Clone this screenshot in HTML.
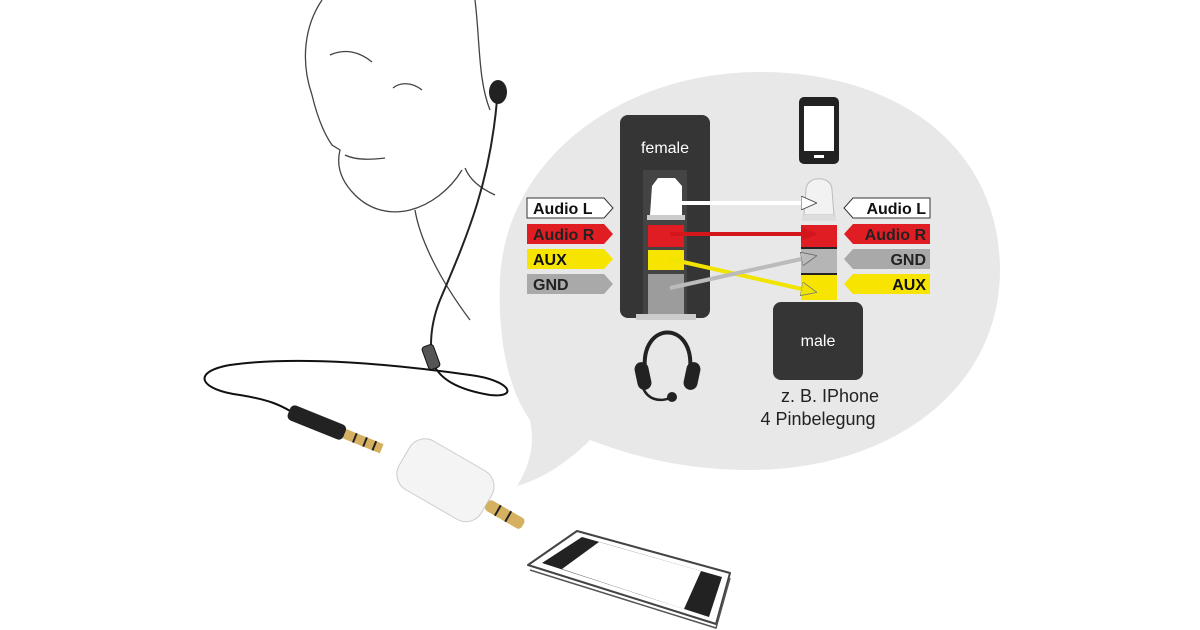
<!DOCTYPE html>
<html><head><meta charset="utf-8"><style>
html,body{margin:0;padding:0;background:#fff;}
svg{display:block;font-family:"Liberation Sans",Arial,sans-serif;}
</style></head><body>
<svg width="1200" height="630" viewBox="0 0 1200 630" xmlns="http://www.w3.org/2000/svg">
<defs>
<marker id="mw" markerWidth="16" markerHeight="14" refX="14" refY="7" orient="auto" markerUnits="userSpaceOnUse"><path d="M0,0 L16,7 L0,14 Z" fill="#fff" stroke="#555" stroke-width="1"/></marker>
<marker id="mr" markerWidth="16" markerHeight="14" refX="14" refY="7" orient="auto" markerUnits="userSpaceOnUse"><path d="M0,0 L16,7 L0,14 Z" fill="#d2161c"/></marker>
<marker id="my" markerWidth="16" markerHeight="14" refX="14" refY="7" orient="auto" markerUnits="userSpaceOnUse"><path d="M0,0 L16,7 L0,14 Z" fill="#f1e400" stroke="#777" stroke-width="0.8"/></marker>
<marker id="mg" markerWidth="16" markerHeight="14" refX="14" refY="7" orient="auto" markerUnits="userSpaceOnUse"><path d="M0,0 L16,7 L0,14 Z" fill="#bbb" stroke="#666" stroke-width="0.8"/></marker>
</defs>
<path d="M760,72 C900,72 1000,150 1000,270 C1000,390 890,470 750,470 C680,470 630,455 590,440 C570,460 545,478 517,486 C530,465 535,445 530,420 C505,385 498,330 500,280 C505,160 620,72 760,72 Z" fill="#e8e8e8"/>

<g fill="none" stroke="#444" stroke-width="1.3">
<path d="M322,0 C305,25 300,60 312,95 C318,120 325,135 332,145 L340,150 C335,170 345,185 355,195 C370,210 390,215 410,210 C430,205 450,190 462,170"/>
<path d="M330,55 C345,48 360,52 372,62"/>
<path d="M393,88 C400,82 412,82 422,90"/>
<path d="M345,155 C355,160 370,160 385,158"/>
<path d="M475,0 C480,40 478,80 490,110"/>
<path d="M465,168 C470,180 480,188 495,195"/>
<path d="M415,210 C420,240 440,280 470,320"/>
</g>
<ellipse cx="498" cy="92" rx="9" ry="12" fill="#222"/>
<path d="M497,100 C490,180 470,230 440,300 C430,325 430,345 432,360" fill="none" stroke="#222" stroke-width="2"/>
<path d="M432,360 C438,380 460,390 490,395 C520,398 510,380 470,375 C400,365 300,355 230,365 C190,372 200,390 240,395 C270,400 280,405 292,412" fill="none" stroke="#111" stroke-width="2"/>
<rect x="425" y="345" width="12" height="24" rx="3" fill="#555" stroke="#111" transform="rotate(-20 431 357)"/>
<g transform="rotate(22 330 430)">
<rect x="285" y="420" width="60" height="16" rx="5" fill="#222"/>
<rect x="345" y="423" width="40" height="10" fill="#d4b060"/>
<rect x="355" y="423" width="2" height="10" fill="#222"/><rect x="366" y="423" width="2" height="10" fill="#222"/><rect x="376" y="423" width="2" height="10" fill="#222"/>
</g>
<g transform="rotate(30 445 480)">
<rect x="398" y="452" width="95" height="56" rx="18" fill="#f4f4f4" stroke="#ccc"/>
<rect x="493" y="474" width="42" height="12" rx="4" fill="#d4b060"/>
<rect x="505" y="474" width="2" height="12" fill="#222"/><rect x="517" y="474" width="2" height="12" fill="#222"/>
</g>
<!-- phone -->
<polygon points="577,531 730,573 716,624 528,565" fill="#fff" stroke="#444" stroke-width="2" stroke-linejoin="round"/>
<polyline points="530,570 716,628 730,578" fill="none" stroke="#555" stroke-width="1.5"/>
<polygon points="582,537 722,577 709,617 542,563" fill="#222"/>
<polygon points="599,542 701,571 684,609 562,569" fill="#fff"/>

<rect x="620" y="115" width="90" height="203" rx="8" fill="#353535"/>
<rect x="643" y="170" width="44" height="150" fill="#444"/>
<path d="M652,186 L658,178 L675,178 L682,186 L682,215 L650,215 Z" fill="#fff"/>
<rect x="647" y="215" width="38" height="5" fill="#ccc"/>
<rect x="648" y="225" width="36" height="22" fill="#e01d22"/>
<rect x="648" y="250" width="36" height="20" fill="#f7e400"/>
<rect x="648" y="274" width="36" height="44" fill="#9c9c9c"/>
<rect x="636" y="314" width="60" height="6" fill="#ccc"/>
<text x="665" y="153" fill="#fff" font-size="16" text-anchor="middle">female</text>

<rect x="799" y="97" width="40" height="67" rx="5" fill="#222"/>
<rect x="804" y="106" width="30" height="45" fill="#fff"/>
<rect x="814" y="155" width="10" height="3" fill="#fff"/>

<path d="M806,190 C806,175 832,175 832,190 L834,215 L804,215 Z" fill="#f2f2f2" stroke="#bbb"/>
<rect x="802" y="215" width="34" height="6" fill="#ddd"/>
<rect x="801" y="225" width="36" height="22" fill="#e01d22"/>
<rect x="801" y="249" width="36" height="24" fill="#b5b5b5"/>
<rect x="801" y="275" width="36" height="25" fill="#f7e400"/>
<rect x="801" y="247" width="36" height="2" fill="#222"/>
<rect x="801" y="273" width="36" height="2" fill="#222"/>
<rect x="773" y="302" width="90" height="78" rx="8" fill="#353535"/>
<text x="818" y="346" fill="#fff" font-size="16" text-anchor="middle">male</text>

<line x1="670" y1="203" x2="815" y2="203" stroke="#fff" stroke-width="4" marker-end="url(#mw)"/>
<line x1="670" y1="234" x2="815" y2="234" stroke="#d2161c" stroke-width="4" marker-end="url(#mr)"/>
<line x1="670" y1="259" x2="815" y2="292" stroke="#f1e400" stroke-width="4" marker-end="url(#my)"/>
<line x1="670" y1="288" x2="815" y2="256" stroke="#bbb" stroke-width="4" marker-end="url(#mg)"/>

<g font-size="16" font-weight="bold">
<path d="M527,198 L604,198 L613,208 L604,218 L527,218 Z" fill="#fff" stroke="#333"/>
<text x="533" y="214" fill="#111">Audio L</text>
<path d="M527,224 L604,224 L613,234 L604,244 L527,244 Z" fill="#e01d22"/>
<text x="533" y="240" fill="#222">Audio R</text>
<path d="M527,249 L604,249 L613,259 L604,269 L527,269 Z" fill="#f7e400"/>
<text x="533" y="265" fill="#111">AUX</text>
<path d="M527,274 L604,274 L613,284 L604,294 L527,294 Z" fill="#a9a9a9"/>
<text x="533" y="290" fill="#222">GND</text>
<path d="M930,198 L853,198 L844,208 L853,218 L930,218 Z" fill="#fff" stroke="#333"/>
<text x="926" y="214" fill="#111" text-anchor="end">Audio L</text>
<path d="M930,224 L853,224 L844,234 L853,244 L930,244 Z" fill="#e01d22"/>
<text x="926" y="240" fill="#222" text-anchor="end">Audio R</text>
<path d="M930,249 L853,249 L844,259 L853,269 L930,269 Z" fill="#a9a9a9"/>
<text x="926" y="265" fill="#222" text-anchor="end">GND</text>
<path d="M930,274 L853,274 L844,284 L853,294 L930,294 Z" fill="#f7e400"/>
<text x="926" y="290" fill="#111" text-anchor="end">AUX</text>
</g>

<path d="M645,370 C640,320 695,320 690,370" fill="none" stroke="#222" stroke-width="4"/>
<rect x="636" y="362" width="14" height="28" rx="7" fill="#222" transform="rotate(-12 643 376)"/>
<rect x="685" y="362" width="14" height="28" rx="7" fill="#222" transform="rotate(12 692 376)"/>
<path d="M643,388 C648,400 660,402 670,398" fill="none" stroke="#222" stroke-width="2.5"/>
<circle cx="672" cy="397" r="5" fill="#222"/>

<text x="830" y="402" fill="#222" font-size="18" text-anchor="middle">z. B. IPhone</text>
<text x="818" y="425" fill="#222" font-size="18" text-anchor="middle">4 Pinbelegung</text>
</svg>
</body></html>
